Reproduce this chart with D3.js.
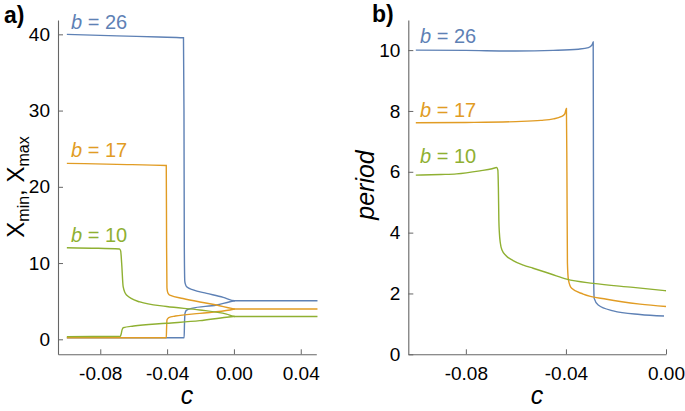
<!DOCTYPE html>
<html><head><meta charset="utf-8">
<script src="https://cdn.jsdelivr.net/npm/d3@7"></script>
<style>body{margin:0;background:#fff}svg{display:block}text{font-family:"Liberation Sans",Arial,Helvetica,sans-serif}</style>
</head><body><svg id="c" width="685" height="411"></svg>
<script>
const seriesB = [26, 17, 10];
const colors = ["#5E81B5", "#E19C24", "#8FB032"];

// panel a: X_max and X_min vs c, [c, value]
const xmax26 = [[-0.1,40.0],[-0.07,39.8],[-0.045,39.65],[-0.0302,39.55],[-0.0299,30],[-0.0297,12],[-0.0294,7.6],[-0.029,7.2],[-0.0283,6.9],[-0.0244,6.47],[-0.0163,6.03],[-0.0064,5.5],[0.0006,5.06],[0.05,5.06]];
const xmin26 = [[-0.1,0.2],[-0.0298,0.2],[-0.0296,2.0],[-0.0293,3.4],[-0.0285,3.8],[-0.0253,4.06],[-0.0104,4.5],[-0.0024,4.93],[0.0006,5.06]];
const xmax17 = [[-0.1,23.08],[-0.07,22.95],[-0.0405,22.8],[-0.0403,12],[-0.0401,6.8],[-0.0398,6.3],[-0.0393,6.0],[-0.038,5.75],[-0.0305,5.35],[-0.0204,4.9],[-0.0104,4.5],[-0.0014,4.05],[0.0006,3.97],[0.05,3.97]];
const xmin17 = [[-0.1,0.2],[-0.0405,0.2],[-0.0403,1.5],[-0.0401,2.5],[-0.0395,2.75],[-0.039,2.85],[-0.035,3.05],[-0.0204,3.4],[-0.0024,3.84],[0.0006,3.97]];
const xmax10 = [[-0.1,12.0],[-0.085,11.95],[-0.0685,11.85],[-0.0678,11.6],[-0.0672,10],[-0.0663,6.9],[-0.0643,5.8],[-0.0563,4.9],[-0.0403,4.3],[-0.0204,3.85],[-0.0044,3.3],[0.0006,3.0],[0.05,3.0]];
const xmin10 = [[-0.1,0.35],[-0.068,0.4],[-0.0675,0.7],[-0.067,1.2],[-0.0663,1.52],[-0.06,1.75],[-0.0403,2.1],[-0.0204,2.45],[-0.0044,2.9],[0.0006,3.0]];

// panel b: period vs c
const period26 = [[-0.1,10.0],[-0.08,9.99],[-0.06,9.97],[-0.045,9.99],[-0.035,10.03],[-0.031,10.08],[-0.0295,10.18],[-0.0291,10.27],[-0.029,6],[-0.0289,2.4],[-0.0287,1.84],[-0.0271,1.62],[-0.0211,1.43],[-0.0104,1.31],[-0.0008,1.26]];
const period17 = [[-0.1,7.61],[-0.08,7.62],[-0.06,7.65],[-0.05,7.69],[-0.045,7.74],[-0.042,7.81],[-0.0405,7.9],[-0.0398,8.08],[-0.0396,6],[-0.0394,3.0],[-0.039,2.45],[-0.0377,2.17],[-0.0331,1.98],[-0.0237,1.81],[-0.0104,1.65],[0,1.57]];
const period10 = [[-0.1,5.89],[-0.09,5.91],[-0.0837,5.93],[-0.0744,6.03],[-0.0695,6.1],[-0.0677,6.14],[-0.0672,6.05],[-0.0670,5.5],[-0.0668,4.4],[-0.0666,4.0],[-0.0662,3.65],[-0.0655,3.42],[-0.064,3.25],[-0.0611,3.08],[-0.057,2.93],[-0.0531,2.83],[-0.046,2.64],[-0.0397,2.47],[-0.0291,2.33],[-0.0131,2.2],[0,2.09]];

const ticksA_x = [-0.08, -0.04, 0.00, 0.04];
const ticksA_y = [0, 10, 20, 30, 40];
const ticksB_x = [-0.08, -0.04, 0.00];
const ticksB_y = [0, 2, 4, 6, 8, 10];

const svg = d3.select("#c");
const axisColor = "#666";

function panel(opt) {
  const g = svg.append("g");
  const x = d3.scaleLinear().domain(opt.xd).range(opt.xr);
  const y = d3.scaleLinear().domain(opt.yd).range(opt.yr);
  const fmt = d3.format(".2f");
  const xa = g.append("g").attr("transform", `translate(0,${opt.yr[0]})`)
    .call(d3.axisBottom(x).tickValues(opt.tx).tickSizeInner(-5).tickSizeOuter(0).tickPadding(12).tickFormat(d => fmt(d).replace("−","-")));
  const ya = g.append("g").attr("transform", `translate(${opt.xr[0]},0)`)
    .call(d3.axisLeft(y).tickValues(opt.ty).tickSizeInner(-5).tickSizeOuter(0).tickPadding(8).tickFormat(d3.format("d")));
  [xa, ya].forEach(a => {
    a.select(".domain").attr("stroke", axisColor).attr("stroke-width", 1.1);
    a.selectAll(".tick line").attr("stroke", axisColor);
    a.selectAll(".tick text").attr("fill", "#000").style("font-size", "19px").style("font-family", '"Liberation Sans",Arial,sans-serif');
  });
  xa.selectAll(".tick text").attr("dy", "0.71em");
  const line = d3.line().x(d => x(d[0])).y(d => y(d[1])).curve(d3.curveMonotoneX);
  opt.series.forEach(s => {
    g.append("path").datum(s.data).attr("fill", "none").attr("stroke", colors[s.ci])
      .attr("stroke-width", 1.4).attr("d", line);
  });
  opt.labels.forEach(l => {
    const t = g.append("text").attr("x", l.x).attr("y", l.y).attr("fill", colors[l.ci]).style("font-size", "20px");
    t.append("tspan").style("font-style", "italic").text("b");
    t.append("tspan").text(" = " + seriesB[l.ci]);
  });
  return {x, y, g};
}

const pa = panel({
  xd: [-0.1053, 0.0493], xr: [58, 316.3],
  yd: [-1.967, 41.88], yr: [354.3, 20],
  tx: ticksA_x, ty: ticksA_y,
  series: [
    {data: xmax26, ci: 0}, {data: xmin26, ci: 0},
    {data: xmax17, ci: 1}, {data: xmin17, ci: 1},
    {data: xmax10, ci: 2}, {data: xmin10, ci: 2}
  ],
  labels: [{x: 71, y: 29, ci: 0}, {x: 71, y: 157, ci: 1}, {x: 71, y: 242, ci: 2}]
});

const pb = panel({
  xd: [-0.103, 0], xr: [408.3, 666],
  yd: [0, 10.99], yr: [354.3, 20],
  tx: ticksB_x, ty: ticksB_y,
  series: [
    {data: period26, ci: 0}, {data: period17, ci: 1}, {data: period10, ci: 2}
  ],
  labels: [{x: 420, y: 43, ci: 0}, {x: 420, y: 117, ci: 1}, {x: 420, y: 163, ci: 2}]
});

// axis labels
svg.append("text").attr("x", 187).attr("y", 404).attr("text-anchor", "middle")
  .style("font-size", "25px").style("font-style", "italic").text("c");
svg.append("text").attr("x", 537).attr("y", 404).attr("text-anchor", "middle")
  .style("font-size", "25px").style("font-style", "italic").text("c");

const yl = svg.append("text").attr("transform", "translate(24,187) rotate(-90)")
  .attr("text-anchor", "middle").style("font-size", "24px");
yl.append("tspan").text("X");
yl.append("tspan").attr("dy", 5).style("font-size", "16px").text("min");
yl.append("tspan").attr("dy", -5).text(", X");
yl.append("tspan").attr("dy", 5).style("font-size", "16px").text("max");

svg.append("text").attr("transform", "translate(374,185) rotate(-90)")
  .attr("text-anchor", "middle").style("font-size", "25px").style("font-style", "italic").text("period");

svg.append("text").attr("x", 4).attr("y", 23).style("font-size", "23px").style("font-weight", "bold").text("a)");
svg.append("text").attr("x", 372).attr("y", 22).style("font-size", "23px").style("font-weight", "bold").text("b)");
</script></body></html>
